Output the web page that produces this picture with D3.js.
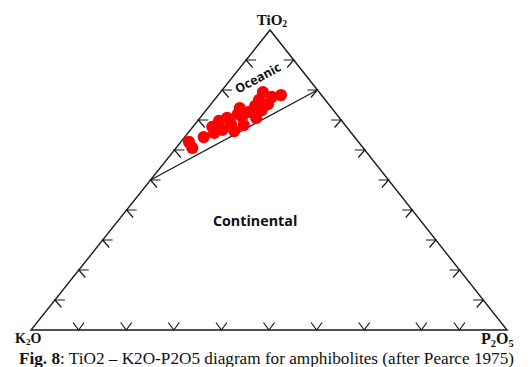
<!DOCTYPE html>
<html>
<head>
<meta charset="utf-8">
<script src="https://cdn.jsdelivr.net/npm/d3@7/dist/d3.min.js"></script>
<style>
  html, body { margin: 0; padding: 0; background: #fff; }
  svg { display: block; }
</style>
</head>
<body>
<svg id="chart" width="530" height="367"></svg>
<script>
// ---- data (percent) ----
const sampleTiO2 = [62.7, 60.7, 64.3, 67.7, 69.7, 66.7, 70.7, 68.7, 66.3, 74.0, 71.0, 68.3,
                    72.7, 74.7, 70.7, 76.7, 79.3, 75.3, 77.7, 78.3, 65.7, 72.0, 73.3];
const sampleP2O5 = [1.7, 3.4, 4.0, 4.1, 4.5, 6.7, 5.7, 7.5, 9.4, 6.7, 8.7, 10.4,
                    9.3, 9.6, 11.8, 9.4, 8.9, 12.0, 11.6, 13.2, 5.5, 7.3, 11.7];
const sampleK2O  = sampleTiO2.map((t, i) => +(100 - t - sampleP2O5[i]).toFixed(1));

// Oceanic / Continental boundary (TiO2, K2O, P2O5 in %)
const boundaryTiO2 = [50, 80];
const boundaryK2O  = [50, 0];
const boundaryP2O5 = [0, 20];

// tick fractions along each edge
const bottomTicks = [0.1, 0.2, 0.3, 0.4, 0.5, 0.6, 0.7, 0.82, 0.9];   // K2O -> P2O5
const leftTicks   = [0.1, 0.2, 0.3, 0.4, 0.5, 0.6, 0.7, 0.8, 0.9];    // from TiO2 apex toward K2O
const rightTicks  = [0.1, 0.2, 0.3, 0.4, 0.5, 0.6, 0.7, 0.8, 0.9];    // from TiO2 apex toward P2O5

const fieldLabels = ["Oceanic", "Continental"];

// ---- geometry ----
const svg = d3.select("#chart");
const K = [31, 330], P = [507, 330], T = [270, 30];
const apexShift = (T[0] - K[0]) / (P[0] - K[0]);
const xScale = d3.scaleLinear().domain([0, 1]).range([K[0], P[0]]);
const yScale = d3.scaleLinear().domain([0, 1]).range([K[1], T[1]]);
// ternary -> pixel
function proj(t, k, p) {
  const s = t + k + p;
  t /= s; p /= s;
  return [xScale(p + apexShift * t), yScale(t)];
}

const stroke = "#1a1a1a";

// triangle
const tri = [proj(1,0,0), proj(0,1,0), proj(0,0,1)];
svg.append("path")
  .attr("d", d3.line()(tri) + "Z")
  .attr("fill", "none").attr("stroke", stroke).attr("stroke-width", 1.4)
  .attr("stroke-linejoin", "miter");

// boundary line
const bl = boundaryTiO2.map((t, i) => proj(t, boundaryK2O[i], boundaryP2O5[i]));
svg.append("path")
  .attr("d", d3.line()(bl))
  .attr("fill", "none").attr("stroke", stroke).attr("stroke-width", 1.3);

// ticks (arrow heads with tip on the edge)
function tickPath(pt, arms) {
  return `M${pt[0] + arms[0][0]},${pt[1] + arms[0][1]}L${pt[0]},${pt[1]}L${pt[0] + arms[1][0]},${pt[1] + arms[1][1]}`;
}
const gT = svg.append("g").attr("fill", "none").attr("stroke", stroke).attr("stroke-width", 1.2);
bottomTicks.forEach(f => {
  gT.append("path").attr("d", tickPath(proj(0, 1 - f, f), [[-5.5, -7.5], [5.5, -7.5]]));
});
leftTicks.forEach(f => {
  gT.append("path").attr("d", tickPath(proj(1 - f, f, 0), [[10, 0], [6.5, 7.5]]));
});
rightTicks.forEach(f => {
  gT.append("path").attr("d", tickPath(proj(1 - f, 0, f), [[-10, 0], [-6.5, 7.5]]));
});

// samples
svg.append("g").selectAll("circle")
  .data(sampleTiO2.map((t, i) => proj(t, sampleK2O[i], sampleP2O5[i])))
  .join("circle")
  .attr("cx", d => d[0]).attr("cy", d => d[1]).attr("r", 6.1)
  .attr("fill", "#ff0000");

// apex labels
const serif = "'Liberation Serif', 'Times New Roman', serif";
function chem(x, y, parts, size, anchor) {
  const t = svg.append("text").attr("x", x).attr("y", y)
    .attr("font-family", serif).attr("font-weight", "bold").attr("font-size", size)
    .attr("fill", "#111").attr("text-anchor", anchor);
  let off = 0;
  const sh = Math.round(size * 0.16);
  parts.forEach(([s, sub]) => {
    const target = sub ? sh : 0;
    const ts = t.append("tspan").attr("dy", target - off).text(s);
    if (sub) ts.attr("font-size", size * 0.65);
    off = target;
  });
  return t;
}
const pT = proj(1,0,0), pK = proj(0,1,0), pP = proj(0,0,1);
chem(pT[0] + 2, pT[1] - 5, [["TiO"], ["2", true]], 15, "middle");
chem(pK[0] - 16, pK[1] + 13, [["K"], ["2", true], ["O"]], 14, "start");
chem(pP[0] - 26, pP[1] + 14, [["P"], ["2", true], ["O"], ["5", true]], 16, "start");

// field labels
const sans = "'Open Sans', 'DejaVu Sans', sans-serif";
const ang = Math.atan2(bl[1][1] - bl[0][1], bl[1][0] - bl[0][0]) * 180 / Math.PI;
const oc = proj(84, 10.5, 5.5);
svg.append("text")
  .attr("transform", `translate(${oc[0]},${oc[1]}) rotate(${ang})`)
  .attr("text-anchor", "middle").attr("dy", "0.35em")
  .attr("font-family", sans).attr("font-weight", "bold").attr("font-size", 12.5)
  .attr("fill", "#111").text(fieldLabels[0]);
const ct = proj(34.7, 35.65, 29.65);
svg.append("text")
  .attr("x", ct[0]).attr("y", ct[1])
  .attr("text-anchor", "middle")
  .attr("font-family", sans).attr("font-weight", "bold").attr("font-size", 14.3)
  .attr("fill", "#111").text(fieldLabels[1]);

// caption
const cap = svg.append("text").attr("x", 19).attr("y", 364)
  .attr("font-family", serif).attr("font-size", 17.2).attr("fill", "#111");
cap.append("tspan").attr("font-weight", "bold").text("Fig. 8");
cap.append("tspan").text(": TiO2 \u2013 K2O-P2O5 diagram for amphibolites (after Pearce 1975)");
</script>
</body>
</html>
